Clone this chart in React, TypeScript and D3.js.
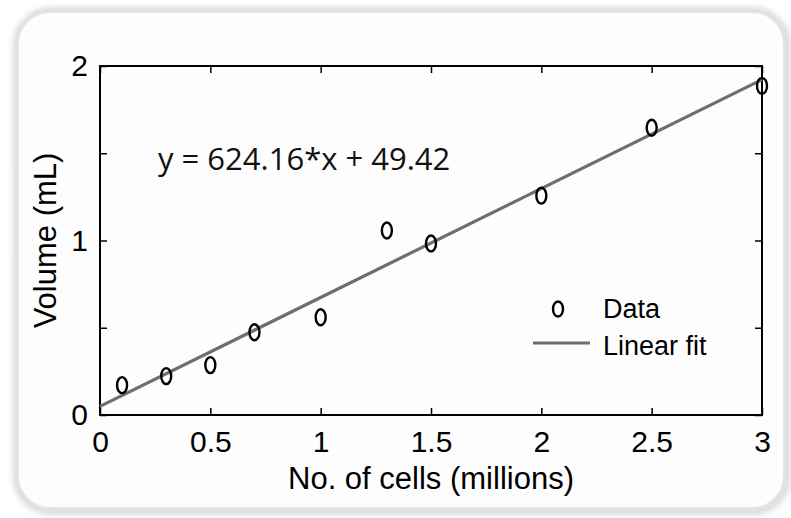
import { useEffect, useRef } from 'react'
import * as d3 from 'd3'

// cells (millions) vs volume (mL)
const cells = [0.1, 0.3, 0.5, 0.7, 1.0, 1.3, 1.5, 2.0, 2.5, 3.0]
const volume = [0.171, 0.223, 0.286, 0.474, 0.56, 1.057, 0.983, 1.257, 1.646, 1.886]
const fitSlope = 0.62416
const fitIntercept = 0.04942
const xTicks = [0, 0.5, 1, 1.5, 2, 2.5, 3]
const yTicks = [0, 0.5, 1, 1.5, 2]
const yTickLabels = ['0', '', '1', '', '2']
const equation = 'y = 624.16*x + 49.42'
const legendLabels = ['Data', 'Linear fit']

const W = 791
const H = 518
const sans = 'Liberation Sans, Arial, sans-serif'

export default function App() {
  const ref = useRef<SVGSVGElement>(null)

  useEffect(() => {
    if (!ref.current) return
    const svg = d3.select(ref.current)
    svg.selectAll('*').remove()

    const margin = { top: 66, right: 29, bottom: 103, left: 100 }
    const innerW = W - margin.left - margin.right
    const innerH = H - margin.top - margin.bottom

    // card
    const defs = svg.append('defs')
    const f = defs.append('filter').attr('id', 'sh').attr('x', -0.05).attr('y', -0.05).attr('width', 1.1).attr('height', 1.1)
    f.append('feGaussianBlur').attr('stdDeviation', 3)
    svg.append('rect').attr('width', W).attr('height', H).attr('fill', '#ffffff')
    svg.append('rect')
      .attr('x', 17).attr('y', 11).attr('width', 770).attr('height', 500).attr('rx', 34)
      .attr('fill', 'none').attr('stroke', '#cfcfcf').attr('stroke-width', 6).attr('filter', 'url(#sh)')
    svg.append('rect')
      .attr('x', 18).attr('y', 12).attr('width', 766).attr('height', 496).attr('rx', 32)
      .attr('fill', '#fdfdfd').attr('stroke', '#e4e4e4').attr('stroke-width', 2)

    const g = svg.append('g').attr('transform', `translate(${margin.left},${margin.top})`)
    const x = d3.scaleLinear().domain([0, 3]).range([0, innerW])
    const y = d3.scaleLinear().domain([0, 2]).range([innerH, 0])

    const style = (s: any) => {
      s.select('.domain').remove()
      s.selectAll('.tick line').attr('stroke', '#000').attr('stroke-width', 1.5)
      s.selectAll('.tick text').attr('fill', '#000').attr('font-size', '30px').attr('font-family', sans)
    }

    g.append('g').attr('transform', `translate(0,${innerH})`)
      .call(d3.axisBottom(x).tickValues(xTicks).tickSize(-7).tickPadding(16).tickFormat((d: any) => String(d)))
      .call(style)
    g.append('g')
      .call(d3.axisTop(x).tickValues(xTicks).tickSize(-7).tickFormat(() => ''))
      .call(style)
    g.append('g')
      .call(d3.axisLeft(y).tickValues(yTicks).tickSize(-7).tickPadding(12).tickFormat((_d: any, i: number) => yTickLabels[i]))
      .call(style)
    g.append('g').attr('transform', `translate(${innerW},0)`)
      .call(d3.axisRight(y).tickValues(yTicks).tickSize(-7).tickFormat(() => ''))
      .call(style)

    g.append('rect').attr('width', innerW).attr('height', innerH)
      .attr('fill', 'none').attr('stroke', '#000').attr('stroke-width', 2)

    // fit line
    const line = d3.line<number>().x((d) => x(d)).y((d) => y(fitSlope * d + fitIntercept))
    g.append('path').datum([0, 3]).attr('d', line)
      .attr('stroke', '#6e6e6e').attr('stroke-width', 3.2).attr('fill', 'none')

    g.selectAll('ellipse.pt').data(cells).join('ellipse').attr('class', 'pt')
      .attr('cx', (d) => x(d)).attr('cy', (_d, i) => y(volume[i]))
      .attr('rx', 5).attr('ry', 8)
      .attr('fill', 'none').attr('stroke', '#000').attr('stroke-width', 2.4)

    g.append('text').attr('x', 58).attr('y', 104)
      .attr('font-family', 'Open Sans, sans-serif').attr('font-size', '31px').attr('fill', '#111')
      .text(equation)

    // legend
    const lg = g.append('g').attr('transform', 'translate(433,243)')
    lg.append('ellipse').attr('cx', 25).attr('cy', 0).attr('rx', 5).attr('ry', 7.5)
      .attr('fill', 'none').attr('stroke', '#000').attr('stroke-width', 2.4)
    lg.append('text').attr('x', 70).attr('y', 9).attr('font-family', sans).attr('font-size', '27px').text(legendLabels[0])
    lg.append('line').attr('x1', 0).attr('x2', 57).attr('y1', 34).attr('y2', 34)
      .attr('stroke', '#6e6e6e').attr('stroke-width', 3.2)
    lg.append('text').attr('x', 70).attr('y', 46).attr('font-family', sans).attr('font-size', '27px').text(legendLabels[1])

    g.append('text').attr('x', innerW / 2).attr('y', innerH + 74).attr('text-anchor', 'middle')
      .attr('font-family', sans).attr('font-size', '31px').text('No. of cells (millions)')
    g.append('text').attr('transform', `translate(-44,${innerH / 2}) rotate(-90)`).attr('text-anchor', 'middle')
      .attr('font-family', sans).attr('font-size', '31px').text('Volume (mL)')
  }, [])

  return <svg ref={ref} width={W} height={H} style={{ position: 'absolute', left: 0, top: 0, display: 'block' }} />
}
